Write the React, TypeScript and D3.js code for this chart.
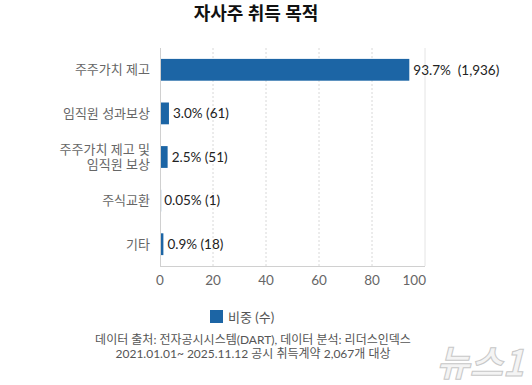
import React, { useEffect, useRef } from 'react';
import * as d3 from 'd3';

const categories = ['주주가치 제고', '임직원 성과보상', '주주가치 제고 및\n임직원 보상', '주식교환', '기타'];
const shares = [93.7, 3.0, 2.5, 0.05, 0.9];
const shareLabels = ['93.7%', '3.0%', '2.5%', '0.05%', '0.9%'];
const counts = ['1,936', '61', '51', '1', '18'];
const xTicks = [0, 20, 40, 60, 80, 100];

const title = '자사주 취득 목적';
const legendLabel = '비중 (수)';
const footer = [
  '데이터 출처: 전자공시시스템(DART), 데이터 분석: 리더스인덱스',
  '2021.01.01~ 2025.11.12 공시 취득계약 2,067개 대상'
];

const WIDTH = 532;
const HEIGHT = 385;
const BAR_COLOR = '#1c65a5';
const FONT = "Lato, 'Noto Sans CJK KR', sans-serif";

const App: React.FC = () => {
  const svgRef = useRef<SVGSVGElement>(null);

  useEffect(() => {
    if (!svgRef.current) return;
    const svg = d3.select(svgRef.current);
    svg.selectAll('*').remove();

    svg.append('rect')
      .attr('width', WIDTH)
      .attr('height', HEIGHT)
      .attr('fill', 'white');

    const margin = { top: 48, left: 160, right: 107, bottom: 119 };
    const innerWidth = WIDTH - margin.left - margin.right;
    const innerHeight = HEIGHT - margin.top - margin.bottom;

    const xScale = d3.scaleLinear().domain([0, 100]).range([0, innerWidth]);
    const yScale = d3.scaleBand<number>()
      .domain(d3.range(categories.length))
      .range([0, innerHeight])
      .paddingInner(0.5)
      .paddingOuter(0.25);

    // title
    svg.append('text')
      .attr('x', 256)
      .attr('y', 20)
      .attr('text-anchor', 'middle')
      .attr('font-family', FONT)
      .attr('font-size', 18)
      .attr('font-weight', 'bold')
      .attr('fill', '#111')
      .text(title);

    const g = svg.append('g')
      .attr('transform', `translate(${margin.left},${margin.top})`);

    // dotted vertical grid
    g.append('g')
      .selectAll('line')
      .data(xTicks.filter(t => t > 0 && t < 100))
      .join('line')
      .attr('x1', d => xScale(d))
      .attr('x2', d => xScale(d))
      .attr('y1', 0)
      .attr('y2', innerHeight)
      .attr('stroke', '#d8d8d8')
      .attr('stroke-dasharray', '2,2');

    g.append('line')
      .attr('x1', xScale(100)).attr('x2', xScale(100))
      .attr('y1', 0).attr('y2', innerHeight)
      .attr('stroke', '#e4e4e4');

    // axis lines
    g.append('line')
      .attr('x1', 0.5).attr('x2', 0.5)
      .attr('y1', 0).attr('y2', innerHeight)
      .attr('stroke', '#d0d0d0');
    g.append('line')
      .attr('x1', 0).attr('x2', innerWidth)
      .attr('y1', innerHeight + 0.5).attr('y2', innerHeight + 0.5)
      .attr('stroke', '#d0d0d0');

    // x tick labels
    g.append('g')
      .selectAll('text')
      .data(xTicks)
      .join('text')
      .attr('x', d => (d === 100 ? xScale(d) + 1 : xScale(d)))
      .attr('y', innerHeight + 19)
      .attr('text-anchor', d => (d === 100 ? 'end' : 'middle'))
      .attr('font-family', FONT)
      .attr('font-size', 13.5)
      .attr('fill', '#666')
      .text(d => d);

    // bars
    g.append('g')
      .selectAll('rect')
      .data(shares)
      .join('rect')
      .attr('x', 1)
      .attr('y', (_, i) => yScale(i) as number)
      .attr('width', d => xScale(d))
      .attr('height', yScale.bandwidth())
      .attr('fill', BAR_COLOR);

    // value labels
    g.append('g')
      .selectAll('text')
      .data(shares)
      .join('text')
      .attr('x', d => xScale(d) + (d > 0.5 ? 5 : 4))
      .attr('y', (_, i) => (yScale(i) as number) + yScale.bandwidth() / 2)
      .attr('dy', '0.35em')
      .attr('font-family', FONT)
      .attr('font-size', 13.5)
      .attr('fill', '#222')
      .attr('xml:space', 'preserve')
      .text((d, i) => `${shareLabels[i]}${i === 0 ? '  ' : ' '}(${counts[i]})`);

    // category labels
    const catG = g.append('g');
    categories.forEach((c, i) => {
      const lines = c.split('\n');
      const cy = (yScale(i) as number) + yScale.bandwidth() / 2;
      const lh = 15;
      const t = catG.append('text')
        .attr('x', -10)
        .attr('text-anchor', 'end')
        .attr('font-family', FONT)
        .attr('font-size', 13)
        .attr('fill', '#666');
      lines.forEach((ln, j) => {
        t.append('tspan')
          .attr('x', -10)
          .attr('y', cy + (j - (lines.length - 1) / 2) * lh)
          .attr('dy', '0.35em')
          .text(ln);
      });
    });

    // legend
    svg.append('rect')
      .attr('x', 210)
      .attr('y', 310)
      .attr('width', 13)
      .attr('height', 13)
      .attr('fill', BAR_COLOR);
    svg.append('text')
      .attr('x', 228)
      .attr('y', 321.5)
      .attr('font-family', FONT)
      .attr('font-size', 13)
      .attr('fill', '#555')
      .text(legendLabel);

    // footer
    svg.append('g')
      .selectAll('text')
      .data(footer)
      .join('text')
      .attr('x', 253)
      .attr('y', (_, i) => 344 + i * 14)
      .attr('text-anchor', 'middle')
      .attr('font-family', FONT)
      .attr('font-size', 12)
      .attr('fill', '#555')
      .text(d => d);

    // watermark
    svg.append('text')
      .attr('x', 524)
      .attr('y', 376)
      .attr('text-anchor', 'end')
      .attr('font-family', "'Noto Sans CJK KR', sans-serif")
      .attr('font-size', 36)
      .attr('font-weight', 'bold')
      .attr('font-style', 'italic')
      .attr('fill', '#f4f4f4')
      .attr('stroke', '#c8c8c8')
      .attr('stroke-width', 1)
      .text('뉴스1');
  }, []);

  return (
    <svg
      ref={svgRef}
      width={WIDTH}
      height={HEIGHT}
      style={{ position: 'absolute', left: 0, top: 0, display: 'block' }}
    />
  );
};

export default App;
